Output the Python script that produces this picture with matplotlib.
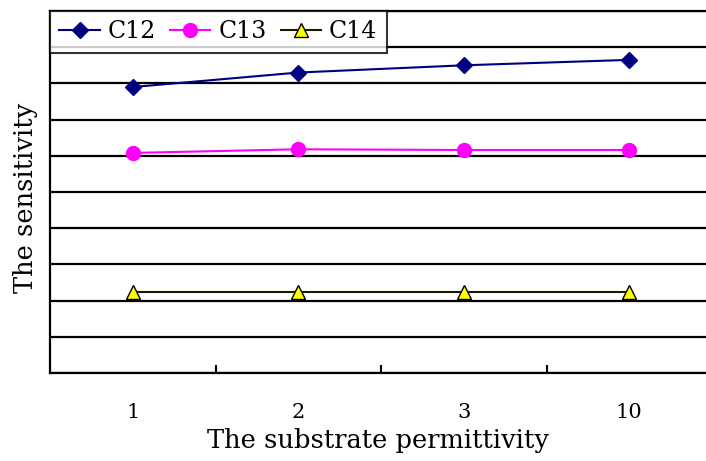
import matplotlib.pyplot as plt
import numpy as np

plt.rcParams['font.family'] = ['DejaVu Serif']

# permittivity categories and sensitivity of each capacitor
categories = ['1', '2', '3', '10']
c12 = [7.9, 8.3, 8.5, 8.65]
c13 = [6.08, 6.18, 6.16, 6.16]
c14 = [2.23, 2.23, 2.23, 2.23]

fig = plt.figure(figsize=(7.06, 4.61), dpi=100)
# plot area runs slightly past the right edge of the figure
ax = fig.add_axes([50 / 706, 1 - 373 / 461, 662 / 706, 362 / 461])

x = np.arange(len(categories))
ax.plot(x, c12, color='#000080', lw=1.5, marker='D', ms=8,
        mfc='#000080', mec='#000080', label='C12', zorder=3)
ax.plot(x, c13, color='#ff00ff', lw=1.5, marker='o', ms=10,
        mfc='#ff00ff', mec='#ff00ff', label='C13', zorder=3)
ax.plot(x, c14, color='#1a1a00', lw=1.5, marker='^', ms=10,
        mfc='#ffff00', mec='#000000', mew=1, label='C14', zorder=3)

ax.set_xlim(-0.5, len(categories) - 0.5)
ax.set_ylim(0, 10)
ax.set_yticks(np.arange(0, 11))
ax.yaxis.grid(True, color='black', lw=1.6)
ax.set_axisbelow(True)
ax.tick_params(axis='y', length=0, labelleft=False)

# category labels sit between the boundary ticks
ax.set_xticks(x[:-1] + 0.5)
ax.set_xticklabels([])
ax.tick_params(axis='x', direction='in', length=6, width=1.5, color='black')
for xi, lab in zip(x, categories):
    ax.text(xi, -1.1, lab, ha='center', va='center', fontsize=15)

for side in ['left', 'bottom', 'top']:
    ax.spines[side].set_linewidth(1.6)
ax.spines['right'].set_visible(False)

fig.text(378 / 706, 1 - 440 / 461, 'The substrate permittivity',
         ha='center', va='center', fontsize=18.5)
fig.text(26 / 706, 1 - 198 / 461, 'The sensitivity', rotation=90,
         ha='center', va='center', fontsize=18.5)

leg = ax.legend(loc='upper left', bbox_to_anchor=(0, 1), ncol=3,
                frameon=True, fancybox=False, fontsize=17,
                handlelength=1.7, handletextpad=0.34, columnspacing=0.6,
                borderpad=0.4, borderaxespad=0, markerscale=1.0)
leg.get_frame().set_edgecolor('black')
leg.get_frame().set_linewidth(1.5)

fig.savefig('out.png', dpi=100)
